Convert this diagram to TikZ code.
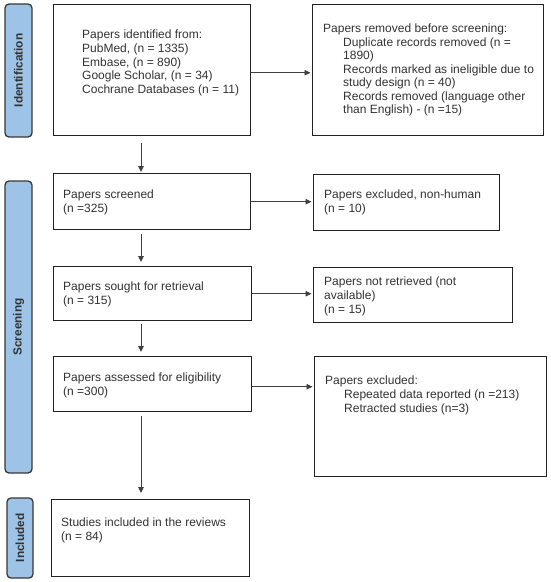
\documentclass[tikz,border=0pt]{standalone}
\usepackage{fontspec}
\setmainfont{Liberation Sans}
\usetikzlibrary{arrows.meta}
\definecolor{barblue}{HTML}{9DC3E6}
\definecolor{txtc}{HTML}{333333}
\definecolor{boxc}{HTML}{222222}
\begin{document}
\begin{tikzpicture}[x=1pt,y=-1pt,
  box/.style={draw=boxc, line width=1.4pt, inner sep=0pt, anchor=north west, fill=white},
  txt/.style={anchor=north west, inner sep=0pt, align=left, text=txtc, font=\fontsize{12}{13.7}\selectfont},
  bar/.style={draw=boxc!90, line width=1.3pt, fill=barblue, rounded corners=4pt, rotate=90, inner sep=0pt, text=txtc, font=\fontsize{11.8}{13}\selectfont\bfseries},
  arr/.style={draw=black!75, line width=0.9pt, -{Triangle[length=6pt,width=5.5pt]}}]
\useasboundingbox (0,0) rectangle (550,582);
\fill[white] (0,0) rectangle (550,582);
% phase bars
\node[bar, minimum width=133pt, minimum height=27pt] (b1) at (18.5,70.5) {Identification};
\node[bar, minimum width=292pt, minimum height=27pt] (b2) at (18.5,327) {Screening};
\node[bar, minimum width=80pt, minimum height=26pt] (b3) at (20,538) {Included};
% boxes
\node[box, minimum width=197pt, minimum height=131pt] (id) at (53,4) {};
\node[box, minimum width=231pt, minimum height=131pt] (rem) at (312,4) {};
\node[box, minimum width=197pt, minimum height=56pt] (scr) at (53,173) {};
\node[box, minimum width=186pt, minimum height=56pt] (exa) at (313,174) {};
\node[box, minimum width=198pt, minimum height=54pt] (sou) at (53,266) {};
\node[box, minimum width=199pt, minimum height=55pt] (nre) at (313,267) {};
\node[box, minimum width=198pt, minimum height=55pt] (eli) at (53,356) {};
\node[box, minimum width=232pt, minimum height=120pt] (exb) at (314,356) {};
\node[box, minimum width=198pt, minimum height=77pt] (inc) at (51,499) {};
% texts
\node[txt] (tid) at (82,30) {Papers identified from:\\PubMed, (n = 1335)\\Embase, (n = 890)\\Google Scholar, (n = 34)\\Cochrane Databases (n = 11)};
\node[txt, font=\fontsize{12}{13.5}\selectfont] (trem) at (323,24) {Papers removed before screening:\\\hspace*{20pt}Duplicate records removed (n =\\\hspace*{20pt}1890)\\\hspace*{20pt}Records marked as ineligible due to\\\hspace*{20pt}study design (n = 40)\\\hspace*{20pt}Records removed (language other\\\hspace*{20pt}than English) - (n =15)};
\node[txt] (tscr) at (63,190) {Papers screened\\(n =325)};
\node[txt] (texa) at (324,190) {Papers excluded, non-human\\(n = 10)};
\node[txt] (tsou) at (63,282) {Papers sought for retrieval\\(n = 315)};
\node[txt] (tnre) at (324,277) {Papers not retrieved (not\\available)\\(n = 15)};
\node[txt] (teli) at (63,373) {Papers assessed for eligibility\\(n =300)};
\node[txt] (texb) at (325,376) {Papers excluded:\\\hspace*{19pt}Repeated data reported (n =213)\\\hspace*{19pt}Retracted studies (n=3)};
\node[txt] (tinc) at (61,518) {Studies included in the reviews\\(n = 84)};
% connectors
\coordinate (ax) at (141,0);
\draw[arr, shorten <=7pt, shorten >=1pt] (id.south -| ax) -- (scr.north -| ax);
\draw[arr, shorten <=4pt, shorten >=4pt] (scr.south -| ax) -- (sou.north -| ax);
\draw[arr, shorten <=3pt, shorten >=4pt] (sou.south -| ax) -- (eli.north -| ax);
\draw[arr, shorten <=4pt, shorten >=6pt] (eli.south -| ax) -- (inc.north -| ax);
\draw[arr, shorten >=1.5pt] ([yshift=-2.5pt]id.east) -- ([yshift=-2.5pt]id.east -| rem.west);
\draw[arr, shorten >=1.5pt] (scr.east) -- (scr.east -| exa.west);
\draw[arr, shorten >=1.5pt] (sou.east) -- (sou.east -| nre.west);
\draw[arr, shorten >=1.5pt] ([yshift=-2.5pt]eli.east) -- ([yshift=-2.5pt]eli.east -| exb.west);
\end{tikzpicture}
\end{document}
